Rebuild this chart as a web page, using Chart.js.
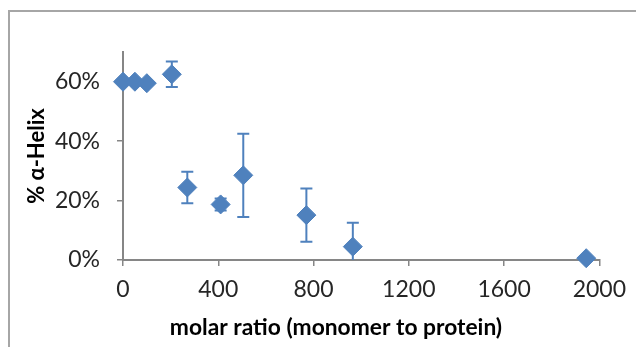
<!DOCTYPE html>
<html>
<head>
<meta charset="utf-8">
<script src="https://cdn.jsdelivr.net/npm/chart.js@4/dist/chart.umd.min.js"></script>
<style>
html, body { margin: 0; padding: 0; background: #fff; }
#wrap { position: relative; width: 636px; height: 347px; overflow: hidden; }
#frame { position: absolute; left: 8px; top: 10px; width: 700px; height: 400px; border: 2px solid #a6a6a6; }
canvas { position: absolute; left: 0; top: 0; }
</style>
</head>
<body>
<div id="wrap">
  <div id="frame"></div>
  <canvas id="chart" width="636" height="347"></canvas>
</div>
<script>
// molar ratio (x) and % alpha-helix (y) with error
const ratio = [0, 50, 100, 205, 270, 410, 505, 770, 965, 1945];
const helix = [0.60, 0.60, 0.595, 0.625, 0.244, 0.187, 0.285, 0.151, 0.045, 0.006];
const helixErr = [0, 0, 0, 0.043, 0.053, 0.02, 0.14, 0.09, 0.08, 0];
const yTicks = [0, 0.2, 0.4, 0.6];
const xTitle = 'molar ratio (monomer to protein)';
const yTitle = '% α-Helix';

const blue = '#4F81BD';
const axisGrey = '#868686';
const fontName = 'Lato';

// Error bars drawn through the chart's own scales
const errorBarPlugin = {
    id: 'errorBars',
    beforeDatasetsDraw(chart) {
        const { ctx, chartArea, scales: { x, y } } = chart;
        ctx.save();
        ctx.beginPath();
        ctx.rect(chartArea.left, chartArea.top, chartArea.width, chartArea.height);
        ctx.clip();
        ctx.strokeStyle = blue;
        ctx.lineWidth = 2;
        ratio.forEach((r, i) => {
            const e = helixErr[i];
            if (!e) return;
            const px = x.getPixelForValue(r);
            const top = y.getPixelForValue(helix[i] + e);
            const bot = y.getPixelForValue(helix[i] - e);
            ctx.beginPath();
            ctx.moveTo(px, top); ctx.lineTo(px, bot);
            ctx.moveTo(px - 6, top); ctx.lineTo(px + 6, top);
            ctx.moveTo(px - 6, bot); ctx.lineTo(px + 6, bot);
            ctx.stroke();
        });
        ctx.restore();
    }
};

// x axis title sits left of the plot centre, as in the original
const xTitlePlugin = {
    id: 'xTitle',
    afterDraw(chart) {
        const { ctx, chartArea } = chart;
        ctx.save();
        ctx.font = 'bold 22.8px ' + fontName;
        ctx.fillStyle = '#000';
        ctx.textAlign = 'center';
        ctx.textBaseline = 'middle';
        ctx.fillText(xTitle, chartArea.left + 213, 328);
        ctx.restore();
    }
};

const ctx = document.getElementById('chart').getContext('2d');
new Chart(ctx, {
    type: 'scatter',
    data: {
        datasets: [{
            data: ratio.map((r, i) => ({ x: r, y: helix[i] })),
            backgroundColor: blue,
            borderColor: blue,
            borderWidth: 1,
            pointStyle: 'rectRot',
            pointRadius: 9.5,
            clip: false
        }]
    },
    options: {
        responsive: false,
        animation: false,
        layout: { padding: { left: 20, top: 52, right: 33, bottom: 0 } },
        plugins: {
            legend: { display: false },
            tooltip: { enabled: false }
        },
        scales: {
            x: {
                type: 'linear',
                min: 0,
                max: 2000,
                ticks: {
                    stepSize: 400,
                    padding: 10,
                    color: '#262626',
                    font: { family: fontName, size: 23 },
                    callback: v => String(v)
                },
                grid: { drawOnChartArea: false, tickLength: 6, color: axisGrey, lineWidth: 1.5 },
                border: { color: axisGrey, width: 2 },
                afterFit: s => { s.height = 87; }
            },
            y: {
                min: 0,
                max: 0.7,
                afterBuildTicks: s => { s.ticks = yTicks.map(v => ({ value: v })); },
                ticks: {
                    padding: 17,
                    color: '#262626',
                    font: { family: fontName, size: 23 },
                    callback: v => Math.round(v * 100) + '%'
                },
                grid: { drawOnChartArea: false, tickLength: 6, color: axisGrey, lineWidth: 1.5 },
                border: { color: axisGrey, width: 2 },
                title: {
                    display: true,
                    text: yTitle,
                    color: '#000',
                    font: { family: fontName, size: 22, weight: 'bold' },
                    padding: { top: 4, bottom: 4 }
                },
                afterFit: s => { s.width = 103; }
            }
        }
    },
    plugins: [errorBarPlugin, xTitlePlugin]
});
</script>
</body>
</html>
